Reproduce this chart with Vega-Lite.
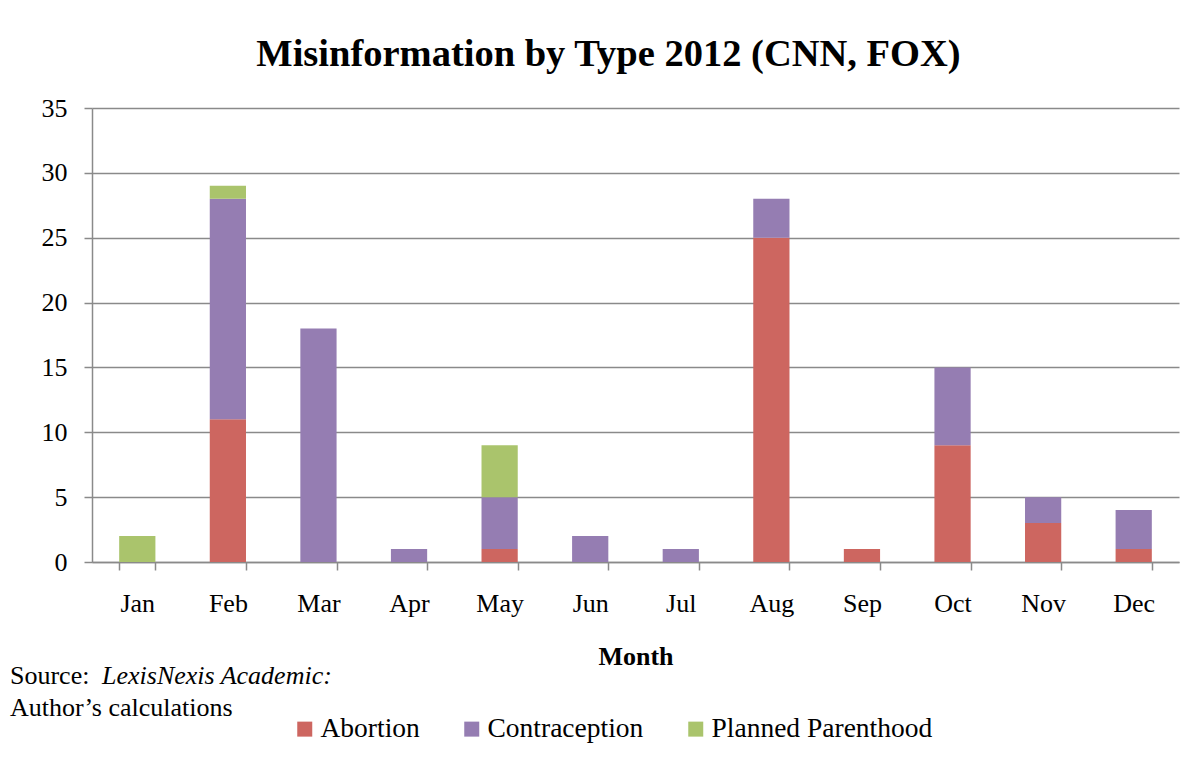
{
  "$schema": "https://vega.github.io/schema/vega-lite/v6.json",
  "width": 1087,
  "height": 454,
  "autosize": {"type": "none"},
  "padding": {"left": 92, "top": 108, "right": 14, "bottom": 201},
  "background": "white",
  "title": {
    "text": "Misinformation by Type 2012 (CNN, FOX)",
    "font": "Liberation Serif",
    "fontSize": 38.5,
    "fontWeight": "bold",
    "color": "#000000",
    "anchor": "middle",
    "frame": "group",
    "dx": -27,
    "baseline": "alphabetic",
    "offset": -9
  },
  "config": {
    "view": {"stroke": null},
    "font": "Liberation Serif"
  },
  "layer": [
    {
      "data": {
        "values": [
          {"month": "Jan", "type": "Planned Parenthood", "count": 2},
          {"month": "Feb", "type": "Abortion", "count": 11},
          {"month": "Feb", "type": "Contraception", "count": 17},
          {"month": "Feb", "type": "Planned Parenthood", "count": 1},
          {"month": "Mar", "type": "Contraception", "count": 18},
          {"month": "Apr", "type": "Contraception", "count": 1},
          {"month": "May", "type": "Abortion", "count": 1},
          {"month": "May", "type": "Contraception", "count": 4},
          {"month": "May", "type": "Planned Parenthood", "count": 4},
          {"month": "Jun", "type": "Contraception", "count": 2},
          {"month": "Jul", "type": "Contraception", "count": 1},
          {"month": "Aug", "type": "Abortion", "count": 25},
          {"month": "Aug", "type": "Contraception", "count": 3},
          {"month": "Sep", "type": "Abortion", "count": 1},
          {"month": "Oct", "type": "Abortion", "count": 9},
          {"month": "Oct", "type": "Contraception", "count": 6},
          {"month": "Nov", "type": "Abortion", "count": 3},
          {"month": "Nov", "type": "Contraception", "count": 2},
          {"month": "Dec", "type": "Abortion", "count": 1},
          {"month": "Dec", "type": "Contraception", "count": 3}
        ]
      },
      "mark": {"type": "bar"},
      "encoding": {
        "x": {
          "field": "month",
          "type": "nominal",
          "sort": ["Jan", "Feb", "Mar", "Apr", "May", "Jun", "Jul", "Aug", "Sep", "Oct", "Nov", "Dec"],
          "scale": {"paddingInner": 0.6, "paddingOuter": 0.3},
          "axis": {
            "title": "Month",
            "titleFont": "Liberation Serif",
            "titleFontSize": 26,
            "titleFontWeight": "bold",
            "titleColor": "#000000",
            "titleBaseline": "middle",
            "titleY": 94,
            "labelAngle": 0,
            "labelFont": "Liberation Serif",
            "labelFontSize": 26,
            "labelColor": "#000000",
            "labelPadding": 20,
            "tickBand": "extent",
            "tickSize": 8,
            "tickColor": "#8a8a8a",
            "tickWidth": 1.5,
            "domainColor": "#8a8a8a",
            "domainWidth": 1.5,
            "grid": false
          }
        },
        "y": {
          "field": "count",
          "type": "quantitative",
          "stack": "zero",
          "scale": {"domain": [0, 35], "nice": false},
          "axis": {
            "title": null,
            "values": [0, 5, 10, 15, 20, 25, 30, 35],
            "labelFont": "Liberation Serif",
            "labelFontSize": 26,
            "labelColor": "#000000",
            "labelPadding": 17,
            "tickSize": 8,
            "tickColor": "#8a8a8a",
            "tickWidth": 1.5,
            "domainColor": "#8a8a8a",
            "domainWidth": 1.5,
            "grid": true,
            "gridColor": "#8a8a8a",
            "gridWidth": 1.5
          }
        },
        "color": {
          "field": "type",
          "type": "nominal",
          "scale": {
            "domain": ["Abortion", "Contraception", "Planned Parenthood"],
            "range": ["#CD6660", "#957DB2", "#AAC46C"]
          },
          "legend": {
            "title": null,
            "orient": "none",
            "direction": "horizontal",
            "legendX": 199,
            "legendY": 607,
            "symbolType": "square",
            "symbolSize": 225,
            "symbolStrokeWidth": 0,
            "labelFont": "Liberation Serif",
            "labelFontSize": 27.5,
            "labelColor": "#000000",
            "labelOffset": 2,
            "labelLimit": 400,
            "columnPadding": 38
          }
        },
        "order": {"field": "type", "sort": "ascending"}
      }
    },
    {
      "data": {"values": [{}]},
      "mark": {"type": "text", "text": "Source:", "font": "Liberation Serif", "fontSize": 26, "align": "left", "baseline": "middle", "color": "#000000", "x": -82, "y": 568},
      "encoding": {}
    },
    {
      "data": {"values": [{}]},
      "mark": {"type": "text", "text": "LexisNexis Academic:", "font": "Liberation Serif", "fontSize": 26, "fontStyle": "italic", "align": "left", "baseline": "middle", "color": "#000000", "x": 10, "y": 568},
      "encoding": {}
    },
    {
      "data": {"values": [{}]},
      "mark": {"type": "text", "text": "Author’s calculations", "font": "Liberation Serif", "fontSize": 26, "align": "left", "baseline": "middle", "color": "#000000", "x": -82, "y": 600},
      "encoding": {}
    }
  ]
}
